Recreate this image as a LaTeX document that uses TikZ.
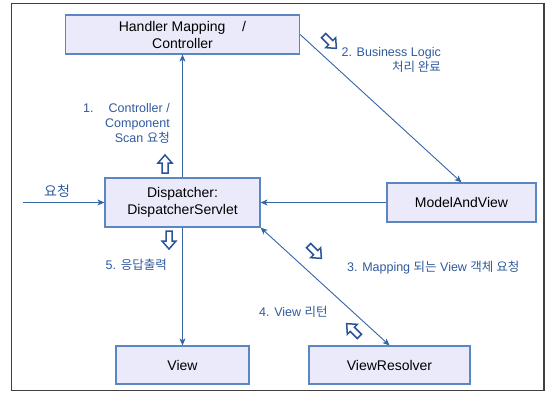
\documentclass[tikz,border=0pt]{standalone}
\usepackage{fontspec}
\setmainfont{Liberation Sans}
\newfontfamily\kr{Noto Sans CJK KR}
\usetikzlibrary{arrows.meta}
\definecolor{boxfill}{HTML}{EAEAFA}
\definecolor{boxline}{HTML}{5B86C2}
\definecolor{connc}{HTML}{3565A3}
\definecolor{lblc}{HTML}{2F5A9E}
\definecolor{harrowc}{HTML}{2A5497}
\begin{document}
\begin{tikzpicture}[x=1pt,y=-1pt,
  box/.style={draw=boxline, line width=1.2pt, fill=boxfill, inner sep=0pt, align=center,
    font=\fontsize{14}{17}\selectfont, text=black},
  conn/.style={draw=connc, line width=0.9pt, -{Stealth[length=7pt,width=6pt,inset=2pt]}},
  conntwo/.style={draw=connc, line width=0.9pt, {Stealth[length=7pt,width=6pt,inset=2pt]}-{Stealth[length=7pt,width=6pt,inset=2pt]}},
  lbl/.style={text=lblc, font=\fontsize{12.5}{15}\selectfont, inner sep=0pt},
  blockarr/.pic={\draw[harrowc, line width=1.5pt, fill=white, line join=miter]
    (0,-9) -- (7,-1) -- (3,-1) -- (3,9) -- (-3,9) -- (-3,-1) -- (-7,-1) -- cycle;}
]
\useasboundingbox (0,0) rectangle (551,393);
\draw[line width=1.4pt, draw=black!75] (11.5,3.5) rectangle (544,390.5);

\node[box, minimum width=234pt, minimum height=39pt] (hm) at (182.5,34.5) {Handler Mapping\hspace{1.2em}/\\Controller};
\node[box, minimum width=155pt, minimum height=49pt] (disp) at (182.5,202.5) {Dispatcher:\\DispatcherServlet};
\node[box, minimum width=149pt, minimum height=39pt] (mv) at (461.5,202.5) {ModelAndView};
\node[box, minimum width=133pt, minimum height=38pt] (view) at (182.5,365) {View};
\node[box, minimum width=161pt, minimum height=38pt] (vr) at (389.5,365) {ViewResolver};

\coordinate (start) at (23,202.5);
\draw[conn] (disp.north) -- (hm.south);
\draw[conn] (hm.east) -- (mv.north);
\draw[conn] (mv.west) -- (disp.east);
\draw[conn] (start) -- (disp.west);
\draw[conn] (disp.south) -- (view.north);
\draw[conntwo] (disp.south east) -- (vr.north);

\node[lbl, align=right, anchor=east] (l1) at (170,123) {1.\hspace{1.2em}Controller /\\Component\\Scan {\kr 요청}};
\node[lbl, align=right, anchor=east] (l2) at (441,59.5) {2. Business Logic\\{\kr 처리 완료}};
\node[lbl, anchor=east] (l5) at (167,265) {5. {\kr 응답출력}};
\node[lbl, anchor=west] (l3) at (347,268) {3. Mapping {\kr 되는} View {\kr 객체 요청}};
\node[lbl, anchor=west] (l4) at (259,312) {4. View {\kr 리턴}};
\node[text=lblc, inner sep=0pt, font=\kr\fontsize{14}{16}\selectfont] (req) at (57,191) {요청};

\pic at (165,164) {blockarr};
\pic[rotate=180] at (169,240) {blockarr};
\pic[rotate=-135] at (330,42) {blockarr};
\pic[rotate=-135] at (315,252) {blockarr};
\pic[rotate=45] at (353,330) {blockarr};
\end{tikzpicture}
\end{document}
